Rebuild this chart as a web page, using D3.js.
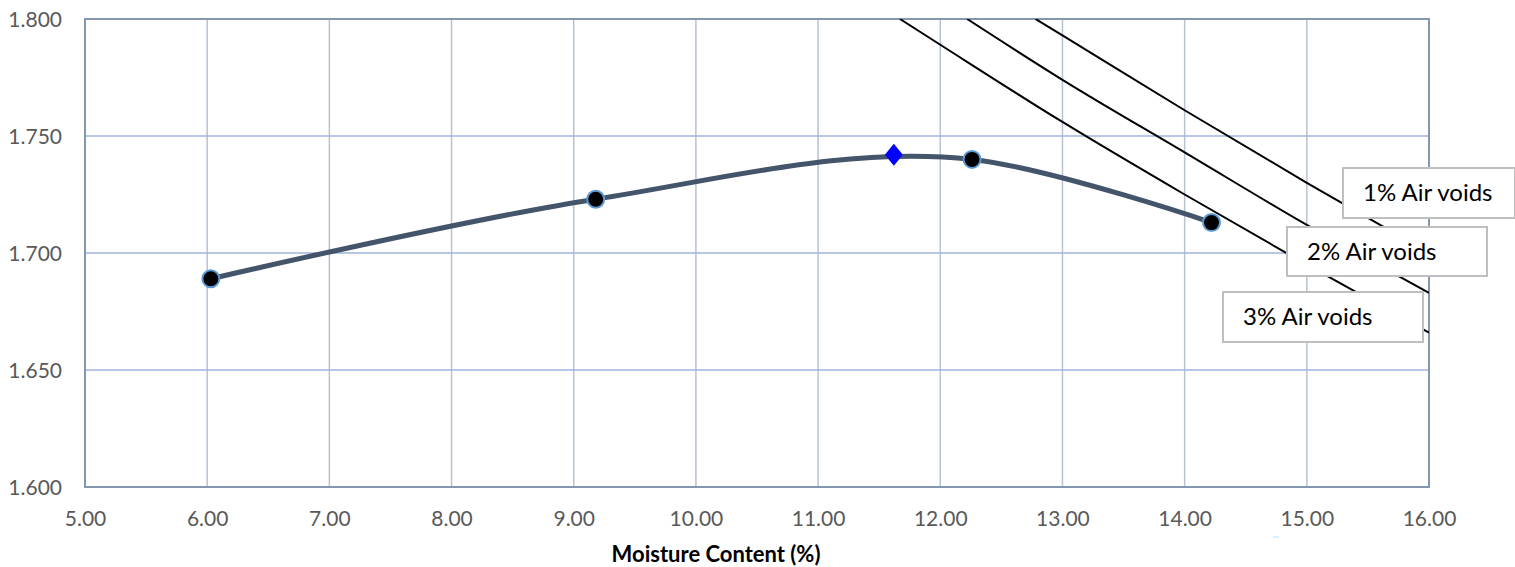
<!DOCTYPE html>
<html>
<head>
<meta charset="utf-8">
<script src="https://cdn.jsdelivr.net/npm/d3@7"></script>
<style>
  html, body { margin: 0; padding: 0; background: #fff; }
  svg { display: block; }
</style>
</head>
<body>
<svg id="chart" width="1515" height="567"></svg>
<script>
// ---- data ----
const moisture = [6.03, 9.18, 12.26, 14.22];
const dryDensity = [1.689, 1.723, 1.740, 1.713];
const optimumMoisture = [11.62];
const maxDryDensity = [1.742];

// air-void lines (moisture %, dry density)
const voids1Moisture = [12.78, 13.0, 14.0, 15.0, 16.0];
const voids1Density  = [1.800, 1.793, 1.761, 1.730, 1.700];
const voids2Moisture = [12.22, 13.0, 14.0, 15.0, 16.0];
const voids2Density  = [1.800, 1.774, 1.743, 1.712, 1.683];
const voids3Moisture = [11.67, 12.0, 13.0, 14.0, 15.0, 16.0];
const voids3Density  = [1.800, 1.789, 1.756, 1.725, 1.695, 1.666];

const voidLabels = ["1% Air voids", "2% Air voids", "3% Air voids"];

const xTicks = [5, 6, 7, 8, 9, 10, 11, 12, 13, 14, 15, 16];
const yTicks = [1.600, 1.650, 1.700, 1.750, 1.800];
const xTitle = "Moisture Content (%)";

// ---- layout ----
const svg = d3.select("#chart");
const L = 85, R = 1429, T = 19, B = 487;
const x = d3.scaleLinear().domain([5, 16]).range([L, R]);
const y = d3.scaleLinear().domain([1.6, 1.8]).range([B, T]);
const font = "Lato, 'Open Sans', sans-serif";

// clip
svg.append("defs").append("clipPath").attr("id", "plot")
  .append("rect").attr("x", L).attr("y", T).attr("width", R - L).attr("height", B - T);

// gridlines
const grid = svg.append("g");
grid.selectAll("line.v").data(xTicks.slice(1, -1)).join("line")
  .attr("x1", d => x(d)).attr("x2", d => x(d))
  .attr("y1", T).attr("y2", B)
  .attr("stroke", "#b7c2d4").attr("stroke-width", 1.5);
grid.selectAll("line.h").data(yTicks.slice(1, -1)).join("line")
  .attr("x1", L).attr("x2", R)
  .attr("y1", d => y(d)).attr("y2", d => y(d))
  .attr("stroke", "#9fb4dc").attr("stroke-width", 1.5);

// plot border
svg.append("rect").attr("x", L).attr("y", T).attr("width", R - L).attr("height", B - T)
  .attr("fill", "none").attr("stroke", "#8497b0").attr("stroke-width", 2);

// axes tick labels
const xAxis = d3.axisBottom(x).tickValues(xTicks).tickFormat(d3.format(".2f")).tickSize(0).tickPadding(0);
const gx = svg.append("g").attr("transform", `translate(0,${B})`).call(xAxis);
gx.select(".domain").remove();
gx.selectAll("text").attr("y", 32).attr("dy", "0.35em")
  .attr("font-family", font).attr("font-size", 21).attr("fill", "#595959");

const yAxis = d3.axisLeft(y).tickValues(yTicks).tickFormat(d3.format(".3f")).tickSize(0).tickPadding(0);
const gy = svg.append("g").attr("transform", `translate(${L},0)`).call(yAxis);
gy.select(".domain").remove();
gy.selectAll("text").attr("x", -23).attr("dy", "0.35em")
  .attr("font-family", font).attr("font-size", 21).attr("fill", "#595959");

// axis title
svg.append("text").attr("x", 716).attr("y", 562)
  .attr("text-anchor", "middle").attr("font-family", font)
  .attr("font-weight", "bold").attr("font-size", 22).attr("fill", "#000")
  .text(xTitle);

// air void lines
const voidLine = d3.line().x(d => x(d[0])).y(d => y(d[1])).curve(d3.curveMonotoneX);
const voidSets = [
  d3.zip(voids1Moisture, voids1Density),
  d3.zip(voids2Moisture, voids2Density),
  d3.zip(voids3Moisture, voids3Density)
];
svg.append("g").attr("clip-path", "url(#plot)")
  .selectAll("path").data(voidSets).join("path")
  .attr("d", voidLine).attr("fill", "none")
  .attr("stroke", "#000").attr("stroke-width", 2);

// compaction curve (smoothed)
const curve = d3.line().x(d => x(d[0])).y(d => y(d[1])).curve(d3.curveCatmullRom.alpha(1));
const pts = d3.zip(moisture, dryDensity);
svg.append("path").attr("d", curve(pts)).attr("fill", "none")
  .attr("stroke", "#44546a").attr("stroke-width", 5).attr("stroke-linecap", "round");

// markers
svg.selectAll("circle.pt").data(pts).join("circle")
  .attr("cx", d => x(d[0])).attr("cy", d => y(d[1])).attr("r", 8.5)
  .attr("fill", "#000").attr("stroke", "#5b9bd5").attr("stroke-width", 2);

// optimum diamond
svg.selectAll("path.opt").data(d3.zip(optimumMoisture, maxDryDensity)).join("path")
  .attr("transform", d => `translate(${x(d[0])},${y(d[1])})`)
  .attr("d", "M0,-11L9,0L0,11L-9,0Z").attr("fill", "#0000ff");

// labels (boxes)
const boxes = [
  { x: 1343, y: 168, w: 172, h: 50 },
  { x: 1287, y: 227, w: 200, h: 49 },
  { x: 1223, y: 292, w: 200, h: 50 }
];
const lg = svg.append("g");
boxes.forEach((b, i) => {
  lg.append("rect").attr("x", b.x).attr("y", b.y).attr("width", b.w).attr("height", b.h)
    .attr("fill", "#fff").attr("stroke", "#bfbfbf").attr("stroke-width", 2);
  lg.append("text").attr("x", b.x + 20).attr("y", b.y + b.h / 2).attr("dy", "0.35em")
    .attr("font-family", font).attr("font-size", 24).attr("fill", "#000")
    .text(voidLabels[i]);
});

// small artifact near axis
svg.append("rect").attr("x", 1273).attr("y", 536).attr("width", 6).attr("height", 2).attr("fill", "#dcefff");
</script>
</body>
</html>
